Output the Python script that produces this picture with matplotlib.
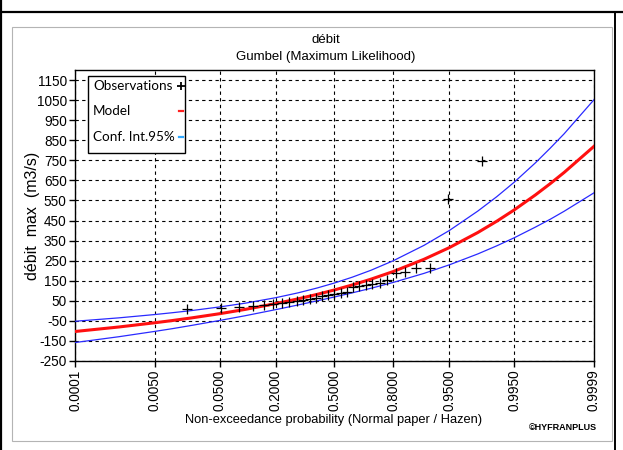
import numpy as np
import matplotlib
matplotlib.use("Agg")
import matplotlib.pyplot as plt
from matplotlib.lines import Line2D
from matplotlib.patches import Rectangle
from matplotlib.ticker import FixedLocator, NullLocator
from statistics import NormalDist

# Observed annual maximum discharge (m3/s), sorted ascending
obs_values = [8, 15, 17, 22, 28, 34, 40, 46, 51, 56, 61, 66, 72, 78, 83,
              88, 93, 118, 123, 128, 133, 138, 152, 188, 192, 212, 215, 555, 748]

# Fitted Gumbel quantiles and 95% confidence limits at reference probabilities
curve_prob = [0.0001, 0.001, 0.005, 0.01, 0.02, 0.05, 0.1, 0.2, 0.3, 0.4, 0.5,
              0.6, 0.7, 0.8, 0.9, 0.95, 0.98, 0.99, 0.995, 0.998, 0.999, 0.9995, 0.9999]
model_q = [-103.0, -80.5, -59.5, -48.5, -35.5, -14.3, 7.0, 36.0, 59.5, 81.6, 104.1,
           128.8, 157.9, 195.8, 256.6, 314.8, 390.2, 446.7, 502.9, 577.2, 633.3, 689.4, 819.6]
upper_q = [-52.0, -35.0, -18.5, -9.5, 1.0, 19.5, 38.0, 65.5, 89.4, 113.3, 138.7,
           167.5, 202.4, 249.5, 326.0, 400.0, 497.0, 569.0, 641.0, 737.0, 810.0, 882.0, 1052.0]
lower_q = [-158.0, -129.0, -102.5, -89.0, -73.0, -48.0, -24.5, 6.0, 29.0, 49.5, 69.0,
           89.5, 112.5, 141.5, 186.5, 229.0, 283.5, 324.0, 364.0, 417.0, 456.0, 496.0, 588.0]

x_tick_prob = [0.0001, 0.005, 0.05, 0.2, 0.5, 0.8, 0.95, 0.995, 0.9999]
x_tick_labels = ["0.0001", "0.0050", "0.0500", "0.2000", "0.5000",
                 "0.8000", "0.9500", "0.9950", "0.9999"]
y_ticks = list(range(-250, 1151, 100))

legend_labels = ["Observations", "Model", "Conf. Int.95%"]

sans = ["Liberation Sans", "DejaVu Sans"]
legend_font = ["Lato", "DejaVu Sans"]

_nd = NormalDist()
_ppf = np.vectorize(_nd.inv_cdf, otypes=[float])
_cdf = np.vectorize(_nd.cdf, otypes=[float])


def prob_to_z(p):
    p = np.clip(np.asarray(p, dtype=float), 1e-12, 1 - 1e-12)
    return _ppf(p)


def z_to_prob(z):
    return _cdf(np.asarray(z, dtype=float))


n = len(obs_values)
hazen = [(i - 0.5) / n for i in range(1, n + 1)]

W, H = 623, 450
fig = plt.figure(figsize=(W / 100, H / 100), dpi=100)
fig.patch.set_facecolor("white")


def fx(px):
    return px / W


def fy(py):
    return 1 - py / H


# window frame
fig.add_artist(Line2D([0, 1], [fy(12), fy(12)], color="black", lw=1.6,
                      transform=fig.transFigure))
fig.add_artist(Line2D([fx(1), fx(1)], [0, 1], color="black", lw=1.6,
                      transform=fig.transFigure))
fig.add_artist(Line2D([fx(615), fx(615)], [0, fy(12)], color="black", lw=1.4,
                      transform=fig.transFigure))
fig.add_artist(Rectangle((fx(12), fy(441)), fx(612) - fx(12), fy(27) - fy(441),
                         transform=fig.transFigure, fill=False,
                         edgecolor="#b4b4b4", lw=0.8))

ax = fig.add_axes([fx(75), fy(361), fx(594) - fx(75), fy(70) - fy(361)])
ax.set_xscale("function", functions=(prob_to_z, z_to_prob))
ax.set_xlim(0.0001, 0.9999)
ax.set_ylim(-250, 1200)

ax.xaxis.set_major_locator(FixedLocator(x_tick_prob))
ax.xaxis.set_minor_locator(NullLocator())
ax.set_xticklabels(x_tick_labels, rotation=90, fontfamily=sans, fontsize=9.8)
ax.set_yticks(y_ticks)
ax.set_yticklabels([str(v) for v in y_ticks], fontfamily=sans, fontsize=9.8)
ax.tick_params(axis="both", direction="out", length=4, width=1, pad=2, colors="black")

ax.grid(True, color="black", linestyle=(0, (3, 3)), lw=0.8)
for s in ax.spines.values():
    s.set_linewidth(1.0)
    s.set_color("black")

ax.plot(curve_prob, upper_q, color="#2a2aff", lw=0.9, zorder=3)
ax.plot(curve_prob, lower_q, color="#2a2aff", lw=0.9, zorder=3)
ax.plot(curve_prob, model_q, color="#ff1010", lw=2.2, zorder=4)
ax.plot(hazen, obs_values, linestyle="none", marker="+", color="black",
        markersize=7, markeredgewidth=0.9, zorder=5)

# legend box: labels on the left, symbols in a column on the right
lx0, ly0, lx1, ly1 = 88, 76, 185, 153
fig.add_artist(Rectangle((fx(lx0), fy(ly1)), fx(lx1) - fx(lx0), fy(ly0) - fy(ly1),
                         transform=fig.transFigure, facecolor="white",
                         edgecolor="black", lw=1.0, zorder=10))
row_y = [86, 111, 137]
for label, yy in zip(legend_labels, row_y):
    fig.text(fx(93), fy(yy), label, ha="left", va="center",
             fontfamily=legend_font, fontsize=9.7, zorder=11)
fig.add_artist(Line2D([fx(181)], [fy(row_y[0])], linestyle="none", marker="+",
                      color="black", markersize=6, markeredgewidth=1.3,
                      transform=fig.transFigure, zorder=11))
fig.add_artist(Line2D([fx(179), fx(183)], [fy(row_y[1]), fy(row_y[1])],
                      color="#ff2020", lw=1.6, transform=fig.transFigure, zorder=11))
fig.add_artist(Line2D([fx(179), fx(183)], [fy(row_y[2]), fy(row_y[2])],
                      color="#30a8ff", lw=1.6, transform=fig.transFigure, zorder=11))

fig.text(fx(326), fy(40), "débit", ha="center", va="center",
         fontfamily=sans, fontsize=9.5)
fig.text(fx(326), fy(57), "Gumbel (Maximum Likelihood)", ha="center", va="center",
         fontfamily=sans, fontsize=9.5)
fig.text(fx(32), fy(216), "débit  max  (m3/s)", ha="center", va="center",
         rotation=90, fontfamily=sans, fontsize=11.5)
fig.text(fx(334), fy(420), "Non-exceedance probability (Normal paper / Hazen)",
         ha="center", va="center", fontfamily=sans, fontsize=9.3)
fig.text(fx(597), fy(428), "©HYFRANPLUS", ha="right", va="center",
         fontfamily=sans, fontsize=6.5, fontweight="bold")

fig.savefig("out.png", dpi=100)
